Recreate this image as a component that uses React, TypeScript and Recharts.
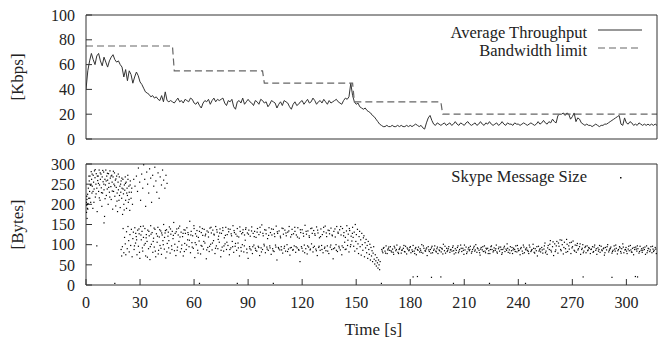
import React from "react";
import {
  Legend,
  Line,
  LineChart,
  Scatter,
  ScatterChart,
  XAxis,
  YAxis,
} from "recharts";

const FONT = '"Liberation Serif", "Times New Roman", serif';
const INK = "#222";
const FRAME = "#333";

// top panel: throughput sampled every second, t = index
const throughputKbps = [
  40, 55, 63, 69, 64, 60, 67, 69, 63, 59, 66, 62, 58, 63, 66, 68, 64, 62, 63, 60,
  58, 50, 56, 47, 55, 52, 45, 50, 54, 51, 46, 44, 41, 38, 37, 36, 34, 35, 33, 34,
  32, 31, 35, 30, 38, 31, 30, 31, 30, 29, 31, 33, 30, 31, 29, 32, 31, 30, 33, 32,
  29, 28, 30, 27, 25, 29, 31, 30, 32, 28, 31, 33, 30, 32, 31, 32, 33, 29, 27, 31,
  30, 32, 26, 24, 30, 31, 29, 33, 28, 30, 32, 30, 29, 27, 31, 30, 28, 32, 31, 29,
  30, 26, 28, 31, 30, 29, 25, 28, 30, 27, 31, 30, 29, 26, 24, 28, 30, 27, 28, 30,
  31, 28, 30, 32, 29, 30, 33, 31, 28, 30, 31, 29, 32, 30, 28, 31, 29, 30, 31, 32,
  30, 29, 28, 31, 33, 32, 34, 45, 35, 30, 28, 29, 26, 25, 24, 25, 23, 22, 21, 19,
  18, 16, 14, 12, 11, 10, 10, 11, 10, 10, 11, 10, 10, 11, 10, 11, 10, 10, 11, 10,
  11, 10, 11, 12, 11, 10, 11, 9, 8, 13, 17, 19, 15, 12, 11, 13, 12, 11, 12, 13,
  11, 12, 13, 11, 12, 14, 12, 11, 13, 12, 11, 13, 14, 12, 11, 12, 13, 11, 12, 14,
  12, 11, 13, 12, 14, 12, 11, 12, 13, 11, 12, 14, 12, 11, 13, 12, 12, 11, 13, 12,
  12, 11, 12, 13, 12, 11, 12, 13, 12, 11, 12, 14, 12, 13, 15, 13, 12, 14, 13, 16,
  14, 13, 19, 20, 20, 21, 19, 21, 20, 16, 18, 21, 14, 17, 16, 13, 12, 11, 12, 11,
  11, 10, 11, 12, 11, 10, 11, 11, 12, 12, 13, 14, 15, 16, 17, 18, 19, 12, 11, 17,
  13, 12, 14, 13, 11, 12, 11, 13, 12, 11, 12, 11, 12, 11, 12, 11, 12, 11,
];

const limitTimes = [0, 48, 49, 98, 99, 148, 149, 197, 198, 317];
const limitKbps = [75, 75, 55, 55, 45, 45, 30, 30, 20, 20];

const kbpsTicks = [0, 20, 40, 60, 80, 100];
const bytesTicks = [0, 50, 100, 150, 200, 250, 300];
const timeTicks = [0, 30, 60, 90, 120, 150, 180, 210, 240, 270, 300];

// bottom panel: message sizes [time s, bytes]
const startBurst = [
  [0.2, 205], [0.3, 180], [0.4, 198], [0.5, 212], [0.6, 165], [0.7, 200], [0.8, 190], [0.9, 225],
  [1.1, 202], [1.3, 240], [1.5, 215], [1.8, 258], [2.0, 232], [2.2, 270], [2.4, 248], [2.6, 205],
  [2.9, 281], [3.1, 262], [3.3, 228], [3.5, 245], [3.8, 190], [4.0, 272], [4.2, 255], [4.5, 238],
  [4.7, 283], [5.0, 266], [5.2, 218], [5.5, 250], [5.7, 276], [6.0, 240], [6.2, 182], [6.5, 259],
  [6.8, 270], [7.0, 232], [7.3, 285], [7.5, 248], [7.8, 210], [8.0, 262], [8.3, 275], [8.5, 241],
  [8.8, 195], [9.0, 268], [9.2, 228], [9.5, 256], [9.8, 280], [10.0, 236], [10.3, 170], [10.5, 262],
  [10.8, 248], [11.0, 285], [11.3, 222], [11.5, 270], [11.8, 238], [12.0, 260], [12.3, 200], [12.5, 276],
  [12.8, 252], [13.0, 230], [13.3, 283], [13.5, 265], [13.8, 244], [14.0, 212], [14.3, 272], [14.5, 255],
  [14.8, 188], [15.0, 268], [15.3, 232], [15.5, 250], [15.8, 278], [16.0, 220], [16.3, 260], [16.5, 196],
  [16.8, 242], [17.0, 270], [17.3, 228], [17.5, 182], [17.8, 255], [18.0, 236], [18.3, 210], [18.5, 268],
  [18.8, 245], [19.0, 192], [19.3, 230], [19.5, 258], [19.8, 215], [20.0, 240], [20.3, 175], [20.5, 262],
  [20.8, 226], [21.0, 200], [21.3, 248], [21.5, 235], [21.8, 268], [22.0, 210], [22.3, 255], [22.5, 190],
  [22.8, 240], [23.0, 222], [23.3, 262], [23.5, 205], [23.8, 245], [24.0, 230], [24.3, 185], [24.6, 258],
  [25.0, 215], [25.4, 240], [25.8, 200], [6.0, 97], [10.0, 154],
  [0.4, 220], [1.0, 188], [1.6, 270], [2.1, 215], [2.7, 247], [3.4, 275], [3.9, 232], [4.4, 205],
  [5.1, 286], [5.6, 226], [6.3, 270], [6.9, 252], [7.4, 216], [7.9, 278], [8.6, 229], [9.3, 284],
  [9.9, 250], [10.6, 214], [11.2, 258], [11.9, 277], [12.6, 242], [13.2, 218], [13.9, 270], [14.6, 233],
  [15.2, 282], [15.9, 246], [16.6, 263], [17.2, 208], [17.9, 275], [18.6, 222], [19.2, 250], [19.9, 265],
  [20.6, 238], [21.2, 186], [21.9, 252], [22.6, 228], [23.2, 272], [23.9, 212], [24.5, 248], [25.2, 230],
];

const earlyTail = [
  [26.5, 262], [27.2, 245], [28.0, 270], [28.6, 232], [29.1, 290], [29.8, 255], [30.3, 210], [30.9, 275],
  [31.5, 240], [32.0, 298], [32.6, 262], [33.1, 195], [33.7, 280], [34.2, 250], [34.8, 228], [35.3, 288],
  [35.9, 265], [36.4, 205], [37.0, 272], [37.6, 245], [38.2, 292], [38.8, 258], [39.3, 230], [40.0, 278],
  [40.6, 215], [41.2, 268], [41.9, 248], [42.5, 285], [43.1, 260], [43.8, 240], [44.4, 272], [45.0, 252],
  [19.5, 88], [19.8, 72], [20.2, 95], [20.6, 140], [21.0, 80], [21.4, 118], [21.8, 102], [22.1, 75],
  [22.5, 132], [22.9, 90], [23.3, 145], [23.7, 110], [24.0, 82], [24.4, 125], [24.8, 98], [25.2, 138],
  [25.6, 70], [26.0, 115],
];

const dualBand = [
  [26.3, 131], [26.7, 88], [27.1, 142], [27.5, 104], [27.9, 120], [28.3, 75], [28.7, 136], [29.1, 96],
  [29.5, 127], [29.9, 66], [30.3, 145], [30.7, 112], [31.1, 133], [31.5, 84], [31.9, 118], [32.3, 99],
  [32.7, 140], [33.1, 72], [33.5, 125], [33.9, 108], [34.3, 136], [34.7, 90], [35.1, 122], [35.5, 63],
  [35.9, 147], [36.3, 101], [36.7, 130], [37.1, 81], [37.5, 116], [37.9, 94], [38.3, 138], [38.7, 70],
  [39.1, 127], [39.5, 106], [39.9, 143], [40.3, 86], [40.7, 119], [41.1, 98], [41.5, 134], [41.9, 76],
  [42.3, 124], [42.7, 110], [43.1, 150], [43.5, 89], [43.9, 129], [44.3, 67], [44.7, 137], [45.1, 103],
  [45.5, 121], [45.9, 92], [46.3, 144], [46.7, 79], [47.1, 126], [47.5, 97], [47.9, 133], [48.3, 115],
  [48.7, 155], [49.1, 85], [49.5, 128], [49.9, 73],
  [50.4, 139], [50.8, 94], [51.2, 124], [51.6, 108], [52.0, 146], [52.4, 82], [52.8, 131], [53.2, 99],
  [53.6, 120], [54.0, 72], [54.4, 137], [54.8, 103], [55.2, 128], [55.6, 88], [56.0, 142], [56.4, 112],
  [56.8, 125], [57.2, 95], [57.6, 158], [58.0, 80], [58.4, 133], [58.8, 105], [59.2, 122], [59.6, 91],
  [60.0, 140], [60.4, 68], [60.8, 127], [61.2, 100], [61.6, 135], [62.0, 86], [62.4, 118], [62.8, 109],
  [63.2, 144], [63.6, 77], [64.0, 130], [64.4, 96], [64.8, 123], [65.2, 89], [65.6, 138], [66.0, 104],
  [66.4, 126], [66.8, 65], [67.2, 134], [67.6, 93], [68.0, 119], [68.4, 83], [68.8, 141], [69.2, 101],
  [69.6, 129], [70.0, 87], [70.4, 136], [70.8, 110], [71.2, 124], [71.6, 78], [72.0, 145], [72.4, 97],
  [72.8, 131], [73.2, 90], [73.6, 121], [74.0, 106], [74.4, 139], [74.8, 70], [75.2, 128], [75.6, 94],
  [76.0, 135], [76.4, 84], [76.8, 117], [77.2, 102], [77.6, 143], [78.0, 88], [78.4, 125], [78.8, 98],
  [79.2, 132], [79.6, 75], [80.0, 138], [80.4, 92], [80.8, 122], [81.2, 108], [81.6, 147], [82.0, 81],
  [82.4, 130], [82.8, 96], [83.2, 126], [83.6, 86], [84.0, 140], [84.4, 104], [84.8, 119], [85.2, 72],
  [85.6, 133], [86.0, 93], [86.4, 127], [86.8, 100], [87.2, 137], [87.6, 82], [88.0, 124], [88.4, 111],
  [88.8, 142], [89.2, 89], [89.6, 129], [90.0, 66],
  [90.4, 136], [90.8, 95], [91.2, 121], [91.6, 87], [92.0, 144], [92.4, 78], [92.8, 128], [93.2, 99],
  [93.6, 133], [94.0, 91], [94.4, 118], [94.8, 84], [95.2, 140], [95.6, 96], [96.0, 125], [96.4, 73],
  [96.8, 131], [97.2, 92], [97.6, 149], [98.0, 88], [98.4, 122], [98.8, 101], [99.2, 137], [99.6, 80],
  [100.0, 127], [100.4, 94], [100.8, 115], [101.2, 86], [101.6, 142], [102.0, 97], [102.4, 130], [102.8, 76],
  [103.2, 124], [103.6, 90], [104.0, 138], [104.4, 83], [104.8, 120], [105.2, 99], [105.6, 146], [106.0, 62],
  [106.4, 128], [106.8, 93], [107.2, 134], [107.6, 87], [108.0, 117], [108.4, 95], [108.8, 141], [109.2, 79],
  [109.6, 126], [110.0, 91], [110.4, 136], [110.8, 84], [111.2, 122], [111.6, 100], [112.0, 131], [112.4, 89],
  [112.8, 145], [113.2, 74], [113.6, 119], [114.0, 93], [114.4, 138], [114.8, 86], [115.2, 127], [115.6, 97],
  [116.0, 133], [116.4, 81], [116.8, 124], [117.2, 92], [117.6, 142], [118.0, 88], [118.4, 116], [118.8, 58],
  [119.2, 130], [119.6, 95], [120.0, 137], [120.4, 84], [120.8, 121], [121.2, 99], [121.6, 148], [122.0, 90],
  [122.4, 126], [122.8, 77], [123.2, 134], [123.6, 94], [124.0, 118], [124.4, 87], [124.8, 140], [125.2, 102],
  [125.6, 128], [126.0, 82], [126.4, 135], [126.8, 96], [127.2, 123], [127.6, 89], [128.0, 144], [128.4, 73],
  [128.8, 129], [129.2, 93], [129.6, 117], [130.0, 86], [130.4, 139], [130.8, 98], [131.2, 125], [131.6, 80],
  [132.0, 132], [132.4, 91], [132.8, 146], [133.2, 85], [133.6, 120], [134.0, 97], [134.4, 136], [134.8, 78],
  [135.2, 127], [135.6, 94], [136.0, 141], [136.4, 88], [136.8, 122], [137.2, 65], [137.6, 133], [138.0, 92],
  [138.4, 119], [138.8, 100], [139.2, 145], [139.6, 83], [140.0, 128], [140.4, 96], [140.8, 137], [141.2, 87],
  [141.6, 124], [142.0, 75], [142.4, 140], [142.8, 93], [143.2, 130], [143.6, 106], [144.0, 118], [144.4, 89],
  [144.8, 147], [145.2, 98], [145.6, 126], [146.0, 82], [146.4, 135], [146.8, 95], [147.2, 121], [147.6, 109],
];

const dualBandExtra = [
  [26.9, 97], [27.6, 128], [28.1, 112], [29.4, 139], [29.7, 81], [30.5, 124], [31.3, 92], [31.8, 146],
  [32.9, 103], [33.4, 117], [34.1, 69], [34.9, 133], [35.7, 95], [36.1, 126], [37.3, 108], [37.8, 141],
  [38.5, 84], [39.7, 121], [40.1, 77], [40.9, 137], [41.6, 91], [42.0, 129], [42.9, 100], [43.6, 118],
  [44.1, 135], [44.9, 82], [45.7, 131], [46.0, 110], [46.9, 139], [47.7, 88], [48.5, 123], [49.3, 101],
  [50.1, 132], [50.6, 86], [51.4, 141], [52.2, 119], [53.0, 90], [53.9, 128], [54.6, 83], [55.0, 136],
  [55.9, 99], [56.6, 130], [57.4, 111], [58.2, 124], [59.0, 94], [59.9, 147], [60.6, 105], [61.4, 121],
  [62.2, 79], [63.0, 133], [63.9, 98], [64.6, 140], [65.4, 108], [66.2, 122], [67.0, 87], [67.9, 131],
  [68.6, 96], [69.4, 143], [70.2, 104], [71.0, 126], [71.9, 91], [72.6, 137], [73.4, 113], [74.2, 129],
  [75.0, 86], [75.9, 142], [76.6, 97], [77.4, 123], [78.2, 106], [79.0, 139], [79.9, 88], [80.6, 127],
  [81.4, 95], [82.2, 135], [83.0, 103], [83.9, 121], [84.6, 92], [85.4, 144], [86.2, 84], [87.0, 130],
  [87.9, 97], [88.6, 138], [89.4, 80], [90.2, 126], [91.0, 90], [91.9, 134], [92.6, 95], [93.4, 120],
  [94.2, 86], [95.0, 131], [95.9, 93], [96.6, 143], [97.4, 82], [98.2, 128], [99.0, 97], [99.9, 136],
  [100.6, 89], [101.4, 123], [102.2, 92], [103.0, 139], [103.9, 85], [104.6, 127], [105.4, 94], [106.2, 132],
  [107.0, 90], [107.9, 121], [108.6, 87], [109.4, 140], [110.2, 96], [111.0, 129], [111.9, 83], [112.6, 134],
  [113.4, 92], [114.2, 125], [115.0, 88], [115.9, 143], [116.6, 95], [117.4, 119], [118.2, 86], [119.0, 137],
  [119.9, 91], [120.6, 128], [121.4, 80], [122.2, 133], [123.0, 97], [123.9, 122], [124.6, 89], [125.4, 141],
  [126.2, 93], [127.0, 127], [127.9, 85], [128.6, 136], [129.4, 96], [130.2, 120], [131.0, 88], [131.9, 143],
  [132.6, 94], [133.4, 129], [134.2, 84], [135.0, 135], [135.9, 99], [136.6, 124], [137.4, 90], [138.2, 139],
  [139.0, 86], [139.9, 131], [140.6, 92], [141.4, 145], [142.2, 97], [143.0, 122], [143.9, 88], [144.6, 134],
  [145.4, 111], [146.2, 140], [147.0, 100], [147.9, 128],
];

const dropOff = [
  [148.0, 143], [148.3, 118], [148.6, 96], [148.9, 131], [149.2, 84], [149.5, 150], [149.8, 108], [150.1, 125],
  [150.4, 90], [150.7, 138], [151.0, 102], [151.3, 78], [151.6, 120], [151.9, 133], [152.2, 95], [152.5, 112],
  [152.8, 74], [153.1, 128], [153.4, 100], [153.7, 86], [154.0, 117], [154.3, 122], [154.6, 70], [154.9, 105],
  [155.2, 92], [155.5, 113], [155.8, 80], [156.1, 98], [156.4, 66], [156.7, 108], [157.0, 88], [157.3, 76],
  [157.6, 101], [157.9, 62], [158.2, 93], [158.5, 72], [158.8, 85], [159.1, 58], [159.4, 79], [159.7, 95],
  [160.0, 64], [160.3, 52], [160.6, 75], [160.9, 60], [161.2, 47], [161.5, 68], [161.8, 55], [162.1, 42],
  [162.4, 62], [162.7, 50], [163.0, 38], [163.3, 58],
];

const steadyBand = [
  [164.2, 88], [164.8, 80], [165.4, 93], [166.0, 84], [166.6, 97], [167.2, 78], [167.8, 90], [168.4, 86],
  [169.0, 95], [169.6, 82], [170.2, 89], [170.8, 76], [171.4, 92], [172.0, 85], [172.6, 99], [173.2, 81],
  [173.8, 88], [174.4, 94], [175.0, 79], [175.6, 87], [176.2, 91], [176.8, 83], [177.4, 96], [178.0, 77],
  [178.6, 89], [179.2, 85], [179.8, 93], [180.4, 80], [181.0, 87], [181.6, 98], [182.2, 84], [182.8, 90],
  [183.4, 75], [184.0, 88], [184.6, 94], [185.2, 82], [185.8, 86], [186.4, 100], [187.0, 79], [187.6, 91],
  [188.2, 85], [188.8, 89], [189.4, 73], [190.0, 95], [190.6, 83], [191.2, 88], [191.8, 92], [192.4, 80],
  [193.0, 86], [193.6, 97], [194.2, 84], [194.8, 90], [195.4, 78], [196.0, 87], [196.6, 93], [197.2, 82],
  [197.8, 89], [198.4, 101], [199.0, 85], [199.6, 79], [200.2, 91], [200.8, 86], [201.4, 95], [202.0, 81],
  [202.6, 88], [203.2, 84], [203.8, 97], [204.4, 77], [205.0, 90], [205.6, 86], [206.2, 93], [206.8, 80],
  [207.4, 88], [208.0, 99], [208.6, 83], [209.2, 91], [209.8, 76], [210.4, 87], [211.0, 94], [211.6, 82],
  [212.2, 89], [212.8, 85], [213.4, 96], [214.0, 79], [214.6, 88], [215.2, 92], [215.8, 84], [216.4, 100],
  [217.0, 81], [217.6, 90], [218.2, 86], [218.8, 74], [219.4, 93], [220.0, 87], [220.6, 83], [221.2, 97],
  [221.8, 80], [222.4, 89], [223.0, 91], [223.6, 85], [224.2, 78], [224.8, 95], [225.4, 88], [226.0, 82],
  [226.6, 92], [227.2, 86], [227.8, 99], [228.4, 79], [229.0, 90], [229.6, 84], [230.2, 94], [230.8, 76],
  [231.4, 88], [232.0, 92], [232.6, 83], [233.2, 89], [233.8, 102], [234.4, 81], [235.0, 87], [235.6, 95],
  [236.2, 85], [236.8, 78], [237.4, 91], [238.0, 88], [238.6, 97], [239.2, 82], [239.8, 90], [240.4, 86],
  [241.0, 75], [241.6, 93], [242.2, 84], [242.8, 99], [243.4, 80], [244.0, 89], [244.6, 92], [245.2, 86],
  [245.8, 78], [246.4, 94], [247.0, 83], [247.6, 88], [248.2, 101], [248.8, 81], [249.4, 90], [250.0, 85],
  [250.6, 72], [251.2, 96], [251.8, 87], [252.4, 82], [253.0, 93], [253.6, 79], [254.2, 89], [254.8, 104],
  [255.4, 84], [256.0, 76], [256.6, 98], [257.2, 88], [257.8, 110], [258.4, 82], [259.0, 95], [259.6, 73],
  [260.2, 102], [260.8, 87], [261.4, 108], [262.0, 79], [262.6, 96], [263.2, 112], [263.8, 85], [264.4, 100],
  [265.0, 77], [265.6, 106], [266.2, 90], [266.8, 113], [267.4, 83], [268.0, 97], [268.6, 105], [269.2, 78],
  [269.8, 92], [270.4, 109], [271.0, 86], [271.6, 99], [272.2, 81], [272.8, 103], [273.4, 90], [274.0, 95],
  [274.6, 76], [275.2, 88], [275.8, 100], [276.4, 84], [277.0, 93], [277.6, 80], [278.2, 97], [278.8, 87],
  [279.4, 91], [280.0, 78], [280.6, 89], [281.2, 95], [281.8, 83], [282.4, 99], [283.0, 86], [283.6, 76],
  [284.2, 92], [284.8, 88], [285.4, 81], [286.0, 96], [286.6, 85], [287.2, 90], [287.8, 74], [288.4, 93],
  [289.0, 87], [289.6, 100], [290.2, 82], [290.8, 89], [291.4, 94], [292.0, 79], [292.6, 86], [293.2, 97],
  [293.8, 84], [294.4, 91], [295.0, 77], [295.6, 88], [296.2, 95], [296.8, 83], [297.4, 90], [298.0, 102],
  [298.6, 80], [299.2, 87], [299.8, 93], [300.4, 78], [301.0, 89], [301.6, 85], [302.2, 98], [302.8, 82],
  [303.4, 91], [304.0, 75], [304.6, 88], [305.2, 94], [305.8, 84], [306.4, 90], [307.0, 79], [307.6, 96],
  [308.2, 86], [308.8, 81], [309.4, 92], [310.0, 88], [310.6, 76], [311.2, 97], [311.8, 85], [312.4, 90],
  [313.0, 83], [313.6, 95], [314.2, 80], [314.8, 89], [315.4, 86], [316.0, 93], [316.6, 78],
];

const steadyExtra = [
  [164.5, 84], [165.1, 91], [166.3, 79], [167.5, 87], [168.1, 94], [169.3, 85], [170.5, 81], [171.1, 96],
  [172.3, 88], [173.5, 78], [174.1, 90], [175.3, 86], [176.5, 98], [177.1, 82], [178.3, 92], [179.5, 87],
  [180.1, 95], [181.3, 83], [182.5, 78], [183.1, 93], [184.3, 86], [185.5, 90], [186.1, 81], [187.3, 97],
  [188.5, 84], [189.1, 92], [190.3, 87], [191.5, 79], [192.1, 96], [193.3, 89], [194.5, 82], [195.1, 94],
  [196.3, 85], [197.5, 91], [198.1, 77], [199.3, 96], [200.5, 83], [201.1, 90], [202.3, 87], [203.5, 93],
  [204.1, 85], [205.3, 80], [206.5, 97], [207.1, 84], [208.3, 91], [209.5, 86], [210.1, 99], [211.3, 78],
  [212.5, 93], [213.1, 88], [214.3, 83], [215.5, 96], [216.1, 87], [217.3, 92], [218.5, 80], [219.1, 89],
  [220.3, 95], [221.5, 84], [222.1, 91], [223.3, 78], [224.5, 88], [225.1, 97], [226.3, 85], [227.5, 90],
  [228.1, 82], [229.3, 94], [230.5, 88], [231.1, 80], [232.3, 96], [233.5, 86], [234.1, 91], [235.3, 79],
  [236.5, 93], [237.1, 87], [238.3, 83], [239.5, 98], [240.1, 85], [241.3, 90], [242.5, 78], [243.1, 94],
  [244.3, 87], [245.5, 83], [246.1, 99], [247.3, 86], [248.5, 91], [249.1, 79], [250.3, 95], [251.5, 84],
  [252.1, 90], [253.3, 87], [254.5, 97], [255.1, 80], [256.3, 92], [257.5, 101], [258.1, 86], [259.3, 107],
  [260.5, 83], [261.1, 97], [262.3, 104], [263.5, 88], [264.1, 111], [265.3, 93], [266.5, 81], [267.1, 101],
  [268.3, 89], [269.5, 106], [270.1, 95], [271.3, 84], [272.5, 98], [273.1, 87], [274.3, 102], [275.5, 91],
  [276.1, 80], [277.3, 96], [278.5, 85], [279.1, 93], [280.3, 88], [281.5, 81], [282.1, 94], [283.3, 90],
  [284.5, 84], [285.1, 98], [286.3, 87], [287.5, 92], [288.1, 80], [289.3, 95], [290.5, 86], [291.1, 91],
  [292.3, 83], [293.5, 89], [294.1, 99], [295.3, 85], [296.5, 92], [297.1, 79], [298.3, 94], [299.5, 88],
  [300.1, 84], [301.3, 96], [302.5, 87], [303.1, 81], [304.3, 93], [305.5, 89], [306.1, 97], [307.3, 83],
  [308.5, 90], [309.1, 86], [310.3, 94], [311.5, 80], [312.1, 91], [313.3, 87], [314.5, 96], [315.1, 83],
  [316.3, 89],
];

const strayPackets = [
  [181.6, 20], [184.0, 21], [191.8, 19], [197.0, 20], [276.0, 20], [292.0, 19], [305.0, 21], [306.2, 20],
  [16.0, 4], [63.0, 4], [84.0, 4], [104.0, 4], [164.0, 4], [204.0, 4], [224.0, 4], [244.0, 4],
];

const throughputData = throughputKbps.map((v, i) => ({ t: i, v }));
const limitData = limitTimes.map((t, i) => ({ t, v: limitKbps[i] }));
const messageData = [
  ...startBurst,
  ...earlyTail,
  ...dualBand,
  ...dualBandExtra,
  ...dropOff,
  ...steadyBand,
  ...steadyExtra,
  ...strayPackets,
].map(([t, bytes]) => ({ t, bytes }));

const tickStyle = { fontFamily: FONT, fontSize: 16, fill: INK };
const labelStyle = { fontFamily: FONT, fontSize: 17, fill: INK, textAnchor: "middle" as const };
const keyText = { display: "inline-block", height: 18, lineHeight: "18px" };

function LineKey({ payload }: any) {
  return (
    <div style={{ fontFamily: FONT, fontSize: 16.5, color: INK }}>
      {(payload || []).map((entry: any) => (
        <div
          key={entry.value}
          style={{ display: "flex", justifyContent: "flex-end", height: 18, whiteSpace: "nowrap" }}
        >
          <span style={keyText}>{entry.value}</span>
          <svg width={55} height={18}>
            <line
              x1={11}
              x2={55}
              y1={6}
              y2={6}
              stroke={entry.color}
              strokeWidth={1.2}
              strokeDasharray={entry.payload?.strokeDasharray}
            />
          </svg>
        </div>
      ))}
    </div>
  );
}

function DotKey() {
  return (
    <div style={{ display: "flex", height: 18, fontFamily: FONT, fontSize: 16.5, color: INK, whiteSpace: "nowrap" }}>
      <span style={keyText}>Skype Message Size</span>
      <svg width={55} height={18}>
        <rect x={33} y={9} width={1.5} height={1.5} fill="#111" />
      </svg>
    </div>
  );
}

const Dot = (props: any) => (
  <rect x={props.cx - 0.6} y={props.cy - 0.6} width={1.2} height={1.2} fill="#000" />
);

export default function App() {
  return (
    <div style={{ position: "fixed", left: 0, top: 0, width: 658, height: 339, background: "#fff" }}>
      <div style={{ position: "absolute", left: 0, top: 0 }}>
        <LineChart width={658} height={160} margin={{ top: 14, right: 0, bottom: 15, left: 0 }}>
          <XAxis
            xAxisId="b"
            dataKey="t"
            type="number"
            domain={[0, 317]}
            allowDataOverflow
            height={6}
            tick={false}
            tickLine={false}
            axisLine={{ stroke: FRAME }}
          />
          <XAxis
            xAxisId="top"
            orientation="top"
            dataKey="t"
            type="number"
            domain={[0, 317]}
            allowDataOverflow
            height={1}
            tick={false}
            tickLine={false}
            axisLine={{ stroke: FRAME }}
          />
          <YAxis
            yAxisId="l"
            type="number"
            domain={[0, 100]}
            allowDataOverflow
            ticks={kbpsTicks}
            interval={0}
            width={86}
            tickSize={-6}
            tickMargin={17}
            tick={tickStyle}
            axisLine={{ stroke: FRAME }}
            tickLine={{ stroke: FRAME }}
            label={{ value: "[Kbps]", angle: -90, position: "insideLeft", offset: 17, style: labelStyle }}
          />
          <YAxis
            yAxisId="r"
            orientation="right"
            type="number"
            domain={[0, 100]}
            allowDataOverflow
            ticks={kbpsTicks}
            interval={0}
            width={1}
            tickSize={-6}
            tick={false}
            axisLine={{ stroke: FRAME }}
            tickLine={{ stroke: FRAME }}
          />
          <Line
            xAxisId="b"
            yAxisId="l"
            data={throughputData}
            dataKey="v"
            name="Average Throughput"
            type="linear"
            stroke="#333"
            strokeWidth={1}
            dot={false}
            isAnimationActive={false}
          />
          <Line
            xAxisId="b"
            yAxisId="l"
            data={limitData}
            dataKey="v"
            name="Bandwidth limit"
            type="linear"
            stroke="#666"
            strokeWidth={1.2}
            strokeDasharray="7 4"
            dot={false}
            isAnimationActive={false}
          />
          <Legend
            layout="horizontal"
            verticalAlign="middle"
            align="center"
            content={<LineKey />}
            wrapperStyle={{ top: 24, right: 16, width: "auto" }}
          />
        </LineChart>
      </div>
      <div style={{ position: "absolute", left: 0, top: 145 }}>
        <ScatterChart width={658} height={194} margin={{ top: 18, right: 0, bottom: 0, left: 0 }}>
          <XAxis
            dataKey="t"
            type="number"
            domain={[0, 317]}
            allowDataOverflow
            ticks={timeTicks}
            interval={0}
            height={54}
            tickSize={-6}
            tickMargin={18}
            tick={tickStyle}
            axisLine={{ stroke: FRAME }}
            tickLine={{ stroke: FRAME }}
            label={{ value: "Time [s]", position: "insideBottom", offset: 4, dx: 2, style: labelStyle }}
          />
          <XAxis
            xAxisId="top"
            orientation="top"
            dataKey="t"
            type="number"
            domain={[0, 317]}
            allowDataOverflow
            ticks={timeTicks}
            interval={0}
            height={1}
            tickSize={-6}
            tick={false}
            axisLine={{ stroke: FRAME }}
            tickLine={{ stroke: FRAME }}
          />
          <YAxis
            dataKey="bytes"
            type="number"
            domain={[0, 300]}
            allowDataOverflow
            ticks={bytesTicks}
            interval={0}
            width={86}
            tickSize={-6}
            tickMargin={17}
            tick={tickStyle}
            axisLine={{ stroke: FRAME }}
            tickLine={{ stroke: FRAME }}
            label={{ value: "[Bytes]", angle: -90, position: "insideLeft", offset: 17, style: labelStyle }}
          />
          <YAxis
            yAxisId="right"
            orientation="right"
            dataKey="bytes"
            type="number"
            domain={[0, 300]}
            allowDataOverflow
            ticks={bytesTicks}
            interval={0}
            width={1}
            tickSize={-6}
            tick={false}
            axisLine={{ stroke: FRAME }}
            tickLine={{ stroke: FRAME }}
          />
          <Scatter data={messageData} name="Skype Message Size" shape={Dot} isAnimationActive={false} />
          <Legend
            layout="horizontal"
            verticalAlign="middle"
            align="center"
            content={<DotKey />}
            wrapperStyle={{ top: 23, right: 16, width: "auto" }}
          />
        </ScatterChart>
      </div>
    </div>
  );
}
